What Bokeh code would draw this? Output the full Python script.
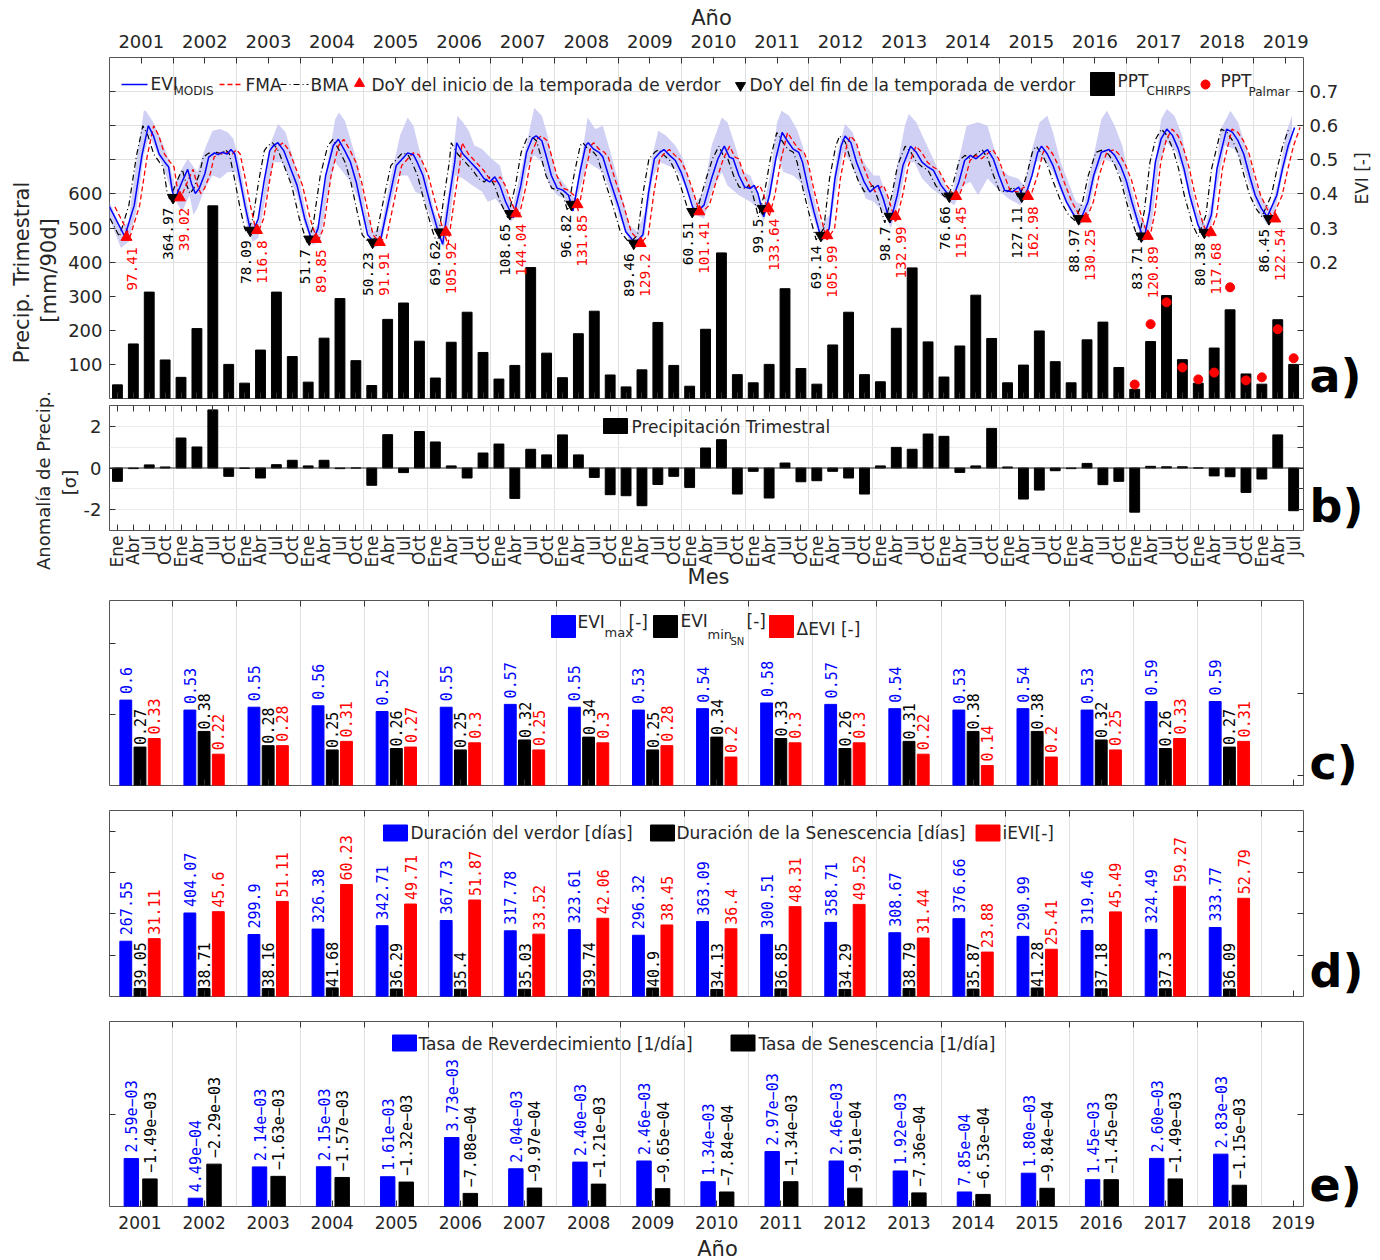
import math
from bokeh.plotting import figure
from bokeh.layouts import column
from bokeh.models import Range1d, LinearAxis, FixedTicker, Label, Span
from bokeh.core.properties import value
from bokeh.embed import file_html
from bokeh.resources import INLINE

# ------------------------------------------------------------------ data
years = list(range(2001, 2020))
season_years = list(range(2001, 2019))
quarter_names = ["Ene", "Abr", "Jul", "Oct"]

# quarterly rainfall CHIRPS, Ene 2001 ... Jul 2019 [mm/90d]
ppt_chirps = [
    40, 160, 312, 113, 62, 205, 565, 100,
    45, 142, 312, 123, 48, 177, 293, 111,
    38, 232, 280, 168, 60, 165, 253, 135,
    57, 97, 384, 133, 61, 190, 256, 69,
    34, 84, 223, 97, 36, 203, 427, 70,
    46, 100, 322, 88, 42, 157, 253, 70,
    49, 206, 383, 166, 63, 154, 303, 176,
    46, 98, 198, 108, 46, 172, 224, 91,
    27, 167, 302, 114, 45, 148, 260, 72,
    42, 231, 100,
]
# standardized quarterly rainfall anomaly [sigma]
ppt_anomaly = [
    -0.64, -0.03, 0.15, 0.05, 1.44, 1.01, 2.79, -0.40,
    -0.02, -0.48, 0.16, 0.37, 0.10, 0.37, -0.03, 0.00,
    -0.83, 1.60, -0.22, 1.75, 1.25, 0.10, -0.48, 0.72,
    1.15, -1.46, 0.90, 0.63, 1.59, 0.63, -0.45, -1.28,
    -1.33, -1.81, -0.79, -0.40, -0.93, 0.96, 1.36, -1.25,
    -0.16, -1.44, 0.24, -0.66, -0.61, -0.16, -0.48, -1.25,
    0.10, 0.99, 0.90, 1.63, 1.52, -0.21, 0.10, 1.90,
    0.05, -1.49, -1.06, -0.13, -0.03, 0.22, -0.80, -0.64,
    -2.12, 0.08, 0.06, 0.06, 0.00, -0.38, -0.42, -1.17,
    -0.53, 1.59, -2.05,
]
# station record (Palmar), from Ene 2017 [mm/90d]
palmar_first = (2017, "Ene")
ppt_palmar = [41, 218, 282, 91, 56, 76, 326, 53, 62, 203, 118]

# MODIS EVI series [decimal year, EVI]
evi_t = [
    2001.00, 2001.24, 2001.39, 2001.51, 2001.61, 2001.69, 2001.78, 2001.87, 2001.93, 2001.99,
    2002.03, 2002.14, 2002.23, 2002.29, 2002.35, 2002.41, 2002.50, 2002.56, 2002.65, 2002.71, 2002.77, 2002.85, 2002.91, 2002.97,
    2003.04, 2003.13, 2003.21, 2003.25, 2003.34, 2003.43, 2003.52, 2003.58, 2003.65, 2003.74, 2003.83, 2003.95,
    2004.07, 2004.19, 2004.28, 2004.40, 2004.52, 2004.60, 2004.70, 2004.79, 2004.88, 2004.97,
    2005.06, 2005.15, 2005.27, 2005.39, 2005.51, 2005.69, 2005.78, 2005.84, 2005.93,
    2006.05, 2006.17, 2006.24, 2006.35, 2006.43, 2006.46, 2006.56, 2006.68, 2006.80, 2006.89, 2006.98,
    2007.06, 2007.14, 2007.23, 2007.35, 2007.47, 2007.56, 2007.65, 2007.71, 2007.80, 2007.86, 2007.95,
    2008.04, 2008.13, 2008.22, 2008.29, 2008.40, 2008.49, 2008.53, 2008.61, 2008.70, 2008.76, 2008.88,
    2009.00, 2009.12, 2009.27, 2009.39, 2009.48, 2009.57, 2009.66, 2009.72, 2009.81, 2009.90, 2009.99,
    2010.08, 2010.17, 2010.23, 2010.35, 2010.47, 2010.57, 2010.67, 2010.75, 2010.81, 2010.90, 2010.99,
    2011.08, 2011.14, 2011.20, 2011.29, 2011.38, 2011.48, 2011.58, 2011.66, 2011.75, 2011.84, 2011.90, 2011.99,
    2012.08, 2012.20, 2012.32, 2012.41, 2012.51, 2012.57, 2012.66, 2012.75, 2012.87, 2012.96,
    2013.02, 2013.09, 2013.17, 2013.28, 2013.39, 2013.48, 2013.60, 2013.69, 2013.78, 2013.87, 2013.96,
    2014.08, 2014.20, 2014.26, 2014.36, 2014.45, 2014.54, 2014.63, 2014.75, 2014.81, 2014.90, 2014.99,
    2015.08, 2015.20, 2015.30, 2015.36, 2015.39, 2015.51, 2015.60, 2015.66, 2015.75, 2015.84, 2015.93,
    2016.05, 2016.17, 2016.27, 2016.39, 2016.48, 2016.60, 2016.72, 2016.81, 2016.90, 2016.99,
    2017.08, 2017.18, 2017.27, 2017.36, 2017.45, 2017.54, 2017.63, 2017.72, 2017.81, 2017.90, 2017.99,
    2018.12, 2018.21, 2018.33, 2018.42, 2018.57, 2018.66, 2018.75, 2018.84, 2018.93,
    2019.02, 2019.12, 2019.21, 2019.36, 2019.45, 2019.54, 2019.64,
]
evi_v = [
    0.362, 0.275, 0.367, 0.513, 0.600, 0.571, 0.517, 0.493, 0.479, 0.406,
    0.385, 0.435, 0.472, 0.430, 0.401, 0.416, 0.459, 0.508, 0.520, 0.515, 0.522, 0.517, 0.530, 0.517,
    0.454, 0.367, 0.299, 0.285, 0.328, 0.435, 0.527, 0.542, 0.550, 0.527, 0.483, 0.425,
    0.328, 0.258, 0.299, 0.454, 0.542, 0.560, 0.527, 0.493, 0.435, 0.357,
    0.280, 0.260, 0.270, 0.377, 0.483, 0.520, 0.515, 0.493, 0.454,
    0.367, 0.289, 0.252, 0.396, 0.493, 0.550, 0.517, 0.493, 0.469, 0.445, 0.435,
    0.450, 0.425, 0.377, 0.330, 0.425, 0.522, 0.563, 0.570, 0.556, 0.517, 0.454,
    0.417, 0.411, 0.396, 0.350, 0.464, 0.542, 0.550, 0.532, 0.522, 0.508, 0.435,
    0.367, 0.289, 0.255, 0.280, 0.406, 0.503, 0.522, 0.530, 0.513, 0.498, 0.464,
    0.416, 0.362, 0.345, 0.367, 0.445, 0.503, 0.540, 0.508, 0.503, 0.454, 0.420,
    0.416, 0.425, 0.401, 0.333, 0.396, 0.503, 0.580, 0.556, 0.532, 0.522, 0.493, 0.416,
    0.348, 0.265, 0.299, 0.445, 0.542, 0.570, 0.551, 0.493, 0.435, 0.406,
    0.416, 0.425, 0.386, 0.315, 0.396, 0.483, 0.540, 0.522, 0.493, 0.479, 0.469,
    0.425, 0.396, 0.385, 0.435, 0.498, 0.513, 0.503, 0.522, 0.530, 0.503, 0.454,
    0.410, 0.406, 0.420, 0.396, 0.385, 0.454, 0.522, 0.540, 0.517, 0.483, 0.435,
    0.377, 0.338, 0.322, 0.377, 0.454, 0.522, 0.530, 0.513, 0.483, 0.440,
    0.377, 0.314, 0.265, 0.348, 0.493, 0.561, 0.590, 0.571, 0.532, 0.474, 0.396,
    0.309, 0.275, 0.338, 0.474, 0.590, 0.581, 0.556, 0.517, 0.454,
    0.396, 0.357, 0.333, 0.396, 0.474, 0.542, 0.595,
]
# lag of the forward / backward moving averages with respect to EVI [years]
ma_lag = 0.085

# EVI spread envelope: upper and lower edges
band_hi_t = [
    2001.00, 2001.18, 2001.30, 2001.42, 2001.54, 2001.57, 2001.69, 2001.81, 2001.93, 2002.02, 2002.14, 2002.23,
    2002.38, 2002.50, 2002.62, 2002.74, 2002.86, 2002.95, 2003.04, 2003.13, 2003.22, 2003.31, 2003.40, 2003.52,
    2003.65, 2003.77, 2003.86, 2003.98, 2004.10, 2004.19, 2004.31, 2004.43, 2004.55, 2004.61, 2004.70, 2004.79,
    2004.91, 2005.03, 2005.15, 2005.27, 2005.42, 2005.57, 2005.69, 2005.78, 2005.87, 2005.99, 2006.11, 2006.23,
    2006.35, 2006.47, 2006.56, 2006.65, 2006.74, 2006.86, 2007.01, 2007.14, 2007.26, 2007.35, 2007.50, 2007.62,
    2007.68, 2007.80, 2007.89, 2008.01, 2008.13, 2008.25, 2008.31, 2008.43, 2008.52, 2008.64, 2008.76, 2008.88,
    2009.03, 2009.18, 2009.30, 2009.42, 2009.54, 2009.63, 2009.75, 2009.90, 2010.02, 2010.14, 2010.23, 2010.35,
    2010.47, 2010.63, 2010.72, 2010.84, 2010.96, 2011.08, 2011.20, 2011.29, 2011.41, 2011.50, 2011.57, 2011.69,
    2011.81, 2011.90, 2012.02, 2012.11, 2012.20, 2012.32, 2012.44, 2012.57, 2012.69, 2012.78, 2012.90, 2013.02,
    2013.11, 2013.20, 2013.29, 2013.38, 2013.51, 2013.57, 2013.69, 2013.81, 2013.93, 2014.05, 2014.17, 2014.26,
    2014.35, 2014.48, 2014.66, 2014.81, 2014.90, 2015.02, 2015.14, 2015.29, 2015.39, 2015.51, 2015.63, 2015.75,
    2015.84, 2015.96, 2016.08, 2016.20, 2016.33, 2016.48, 2016.60, 2016.69, 2016.81, 2016.93, 2017.05, 2017.17,
    2017.30, 2017.42, 2017.54, 2017.63, 2017.75, 2017.87, 2017.99, 2018.11, 2018.24, 2018.36, 2018.48, 2018.63,
    2018.75, 2018.90, 2019.02, 2019.15, 2019.27, 2019.39, 2019.51, 2019.60,
]
band_hi_v = [
    0.377, 0.299, 0.318, 0.493, 0.644, 0.644, 0.610, 0.561, 0.503, 0.425, 0.474, 0.503,
    0.464, 0.532, 0.585, 0.590, 0.581, 0.561, 0.493, 0.406, 0.318, 0.309, 0.377, 0.542,
    0.605, 0.581, 0.522, 0.445, 0.338, 0.289, 0.318, 0.493, 0.619, 0.639, 0.615, 0.561,
    0.483, 0.348, 0.289, 0.299, 0.445, 0.571, 0.624, 0.600, 0.532, 0.445, 0.348, 0.299,
    0.425, 0.629, 0.610, 0.585, 0.542, 0.532, 0.503, 0.483, 0.396, 0.367, 0.493, 0.600,
    0.653, 0.629, 0.571, 0.464, 0.435, 0.406, 0.386, 0.513, 0.624, 0.590, 0.600, 0.522,
    0.416, 0.309, 0.289, 0.348, 0.513, 0.585, 0.571, 0.542, 0.503, 0.425, 0.377, 0.406,
    0.542, 0.624, 0.610, 0.542, 0.464, 0.454, 0.396, 0.367, 0.474, 0.610, 0.644, 0.629,
    0.590, 0.542, 0.454, 0.367, 0.309, 0.338, 0.513, 0.605, 0.581, 0.522, 0.483, 0.454,
    0.454, 0.406, 0.367, 0.474, 0.600, 0.634, 0.610, 0.561, 0.513, 0.464, 0.416, 0.401,
    0.493, 0.600, 0.610, 0.600, 0.542, 0.474, 0.454, 0.445, 0.425, 0.532, 0.610, 0.629,
    0.581, 0.493, 0.435, 0.377, 0.367, 0.513, 0.619, 0.644, 0.600, 0.542, 0.435, 0.348,
    0.309, 0.445, 0.619, 0.649, 0.629, 0.571, 0.445, 0.348, 0.309, 0.396, 0.590, 0.644,
    0.610, 0.522, 0.435, 0.377, 0.357, 0.445, 0.581, 0.629,
]
band_lo_t = [
    2001.00, 2001.18, 2001.30, 2001.42, 2001.54, 2001.63, 2001.72, 2001.84, 2001.96, 2002.05, 2002.14, 2002.26,
    2002.32, 2002.38, 2002.50, 2002.62, 2002.74, 2002.86, 2002.98, 2003.07, 2003.16, 2003.25, 2003.34, 2003.46,
    2003.58, 2003.71, 2003.83, 2003.95, 2004.07, 2004.19, 2004.31, 2004.43, 2004.55, 2004.67, 2004.79, 2004.91,
    2005.03, 2005.15, 2005.27, 2005.39, 2005.54, 2005.69, 2005.81, 2005.93, 2006.05, 2006.17, 2006.26, 2006.35,
    2006.44, 2006.56, 2006.71, 2006.86, 2006.95, 2007.07, 2007.20, 2007.32, 2007.44, 2007.56, 2007.68, 2007.80,
    2007.92, 2008.04, 2008.16, 2008.28, 2008.40, 2008.52, 2008.64, 2008.76, 2008.88, 2009.03, 2009.18, 2009.30,
    2009.42, 2009.54, 2009.66, 2009.78, 2009.90, 2010.02, 2010.14, 2010.23, 2010.35, 2010.47, 2010.63, 2010.72,
    2010.90, 2011.08, 2011.20, 2011.29, 2011.41, 2011.50, 2011.60, 2011.75, 2011.87, 2011.99, 2012.11, 2012.20,
    2012.32, 2012.41, 2012.54, 2012.66, 2012.78, 2012.90, 2013.02, 2013.17, 2013.29, 2013.42, 2013.54, 2013.66,
    2013.78, 2013.93, 2014.08, 2014.20, 2014.29, 2014.42, 2014.54, 2014.66, 2014.81, 2014.96, 2015.14, 2015.33,
    2015.45, 2015.57, 2015.69, 2015.84, 2015.96, 2016.11, 2016.27, 2016.39, 2016.51, 2016.63, 2016.78, 2016.90,
    2017.02, 2017.17, 2017.27, 2017.39, 2017.51, 2017.63, 2017.78, 2017.90, 2018.02, 2018.18, 2018.30, 2018.42,
    2018.54, 2018.69, 2018.81, 2018.93, 2019.08, 2019.21, 2019.33, 2019.45, 2019.60,
]
band_lo_v = [
    0.328, 0.241, 0.260, 0.348, 0.513, 0.571, 0.532, 0.483, 0.416, 0.377, 0.348, 0.396,
    0.338, 0.357, 0.416, 0.454, 0.445, 0.464, 0.464, 0.406, 0.309, 0.260, 0.270, 0.396,
    0.493, 0.493, 0.445, 0.396, 0.309, 0.250, 0.260, 0.396, 0.493, 0.464, 0.435, 0.386,
    0.299, 0.241, 0.250, 0.348, 0.454, 0.454, 0.406, 0.396, 0.328, 0.270, 0.241, 0.318,
    0.454, 0.445, 0.425, 0.406, 0.377, 0.386, 0.357, 0.318, 0.348, 0.474, 0.513, 0.493,
    0.425, 0.396, 0.386, 0.348, 0.416, 0.493, 0.479, 0.464, 0.406, 0.328, 0.260, 0.241,
    0.280, 0.445, 0.493, 0.483, 0.474, 0.435, 0.377, 0.338, 0.328, 0.406, 0.464, 0.425,
    0.396, 0.377, 0.357, 0.318, 0.406, 0.513, 0.464, 0.454, 0.435, 0.377, 0.309, 0.260,
    0.280, 0.396, 0.522, 0.493, 0.435, 0.386, 0.377, 0.348, 0.299, 0.377, 0.493, 0.493,
    0.445, 0.416, 0.396, 0.377, 0.367, 0.425, 0.435, 0.396, 0.445, 0.416, 0.386, 0.367,
    0.406, 0.493, 0.503, 0.464, 0.406, 0.348, 0.309, 0.338, 0.454, 0.503, 0.493, 0.454,
    0.377, 0.299, 0.260, 0.309, 0.493, 0.551, 0.522, 0.454, 0.367, 0.280, 0.270, 0.416,
    0.542, 0.532, 0.493, 0.425, 0.348, 0.309, 0.348, 0.454, 0.561,
]

# start (SOS) and end (EOS) of the green season: day of year and EVI at the mark
sos_year = years
sos_doy = [97.41, 39.02, 116.8, 89.85, 91.91, 105.92, 144.04, 131.85, 129.2, 101.41,
           133.64, 105.99, 132.99, 115.45, 162.98, 130.25, 120.89, 117.68, 122.54]
sos_evi = [0.273, 0.389, 0.293, 0.267, 0.258, 0.288, 0.342, 0.369, 0.255, 0.348,
           0.357, 0.278, 0.334, 0.393, 0.393, 0.327, 0.276, 0.287, 0.327]
eos_year = [2001] + list(range(2003, 2020))
eos_doy = [364.97, 78.09, 51.7, 50.23, 69.62, 108.65, 96.82, 89.46, 60.51,
           99.5, 69.14, 98.7, 76.66, 127.11, 88.97, 83.71, 80.38, 86.45]
eos_evi = [0.389, 0.293, 0.267, 0.258, 0.288, 0.342, 0.369, 0.255, 0.348,
           0.357, 0.278, 0.334, 0.393, 0.393, 0.327, 0.276, 0.287, 0.327]

# seasonal metrics per season 2001 ... 2018
evi_max = [0.6, 0.53, 0.55, 0.56, 0.52, 0.55, 0.57, 0.55, 0.53, 0.54, 0.58, 0.57, 0.54, 0.53, 0.54, 0.53, 0.59, 0.59]
evi_min_sn = [0.27, 0.38, 0.28, 0.25, 0.26, 0.25, 0.32, 0.34, 0.25, 0.34, 0.33, 0.26, 0.31, 0.38, 0.38, 0.32, 0.26, 0.27]
delta_evi = [0.33, 0.22, 0.28, 0.31, 0.27, 0.3, 0.25, 0.3, 0.28, 0.2, 0.3, 0.3, 0.22, 0.14, 0.2, 0.25, 0.33, 0.31]

dur_green = [267.55, 404.07, 299.9, 326.38, 342.71, 367.73, 317.78, 323.61, 296.32, 363.09,
             300.51, 358.71, 308.67, 376.66, 290.99, 319.46, 324.49, 333.77]
dur_senesc = [39.05, 38.71, 38.16, 41.68, 36.29, 35.4, 35.03, 39.74, 40.9, 34.13,
              36.85, 34.29, 38.79, 35.87, 41.28, 37.18, 37.3, 36.09]
ievi = [31.11, 45.6, 51.11, 60.23, 49.71, 51.87, 33.52, 42.06, 38.45, 36.4,
        48.31, 49.52, 31.44, 23.88, 25.41, 45.49, 59.27, 52.79]

rate_green = [2.59e-03, 4.49e-04, 2.14e-03, 2.15e-03, 1.61e-03, 3.73e-03, 2.04e-03, 2.40e-03, 2.46e-03,
              1.34e-03, 2.97e-03, 2.46e-03, 1.92e-03, 7.85e-04, 1.80e-03, 1.45e-03, 2.60e-03, 2.83e-03]
rate_senesc = [-1.49e-03, -2.29e-03, -1.63e-03, -1.57e-03, -1.32e-03, -7.08e-04, -9.97e-04, -1.21e-03, -9.65e-04,
               -7.84e-04, -1.34e-03, -9.91e-04, -7.36e-04, -6.53e-04, -9.84e-04, -1.45e-03, -1.49e-03, -1.15e-03]

# ------------------------------------------------------------------ derived positions
n_q = len(ppt_chirps)
q_year = [y for y in years for _ in quarter_names][:n_q]
q_name = [m for _ in years for m in quarter_names][:n_q]
q_t = [y + (quarter_names.index(m) * 3 + 1.5) / 12 for y, m in zip(q_year, q_name)]
i0 = list(zip(q_year, q_name)).index(palmar_first)
palmar_t = q_t[i0:i0 + len(ppt_palmar)]

sos_t = [y + d / 365.0 for y, d in zip(sos_year, sos_doy)]
eos_t = [y + d / 365.0 for y, d in zip(eos_year, eos_doy)]

mid_years = [y + 0.5 for y in years]
year_starts = [float(y) for y in years[1:]]
half_years = [y + 0.5 for y in season_years]


def num(v):
    return f"{v:.2f}".rstrip("0").rstrip(".")


def sci(v):
    return f"{v:.2e}".replace("-", "\u2212")


# ------------------------------------------------------------------ styling
SANS = "DejaVu Sans"
MONO = "DejaVu Sans Mono"
INK = "#262626"
TICK = "#333333"
FRAME_C = "#555555"
GRID = "#e0e0e0"
BLUE = "#0000ff"
RED = "#ff0000"
BAND = "#c8c8f2"

W, H = 1380, 1260
FRAME_L, FRAME_R = 109, 1303
FRAME_W = FRAME_R - FRAME_L


class Frame:
    """Page geometry of one plot frame and its data limits."""

    def __init__(self, top, bottom, x0, x1, y0, y1):
        self.top, self.bottom = top, bottom
        self.x0, self.x1, self.y0, self.y1 = x0, x1, y0, y1

    def x(self, px):
        return self.x0 + (px - FRAME_L) / FRAME_W * (self.x1 - self.x0)

    def y(self, py):
        return self.y1 - (py - self.top) / (self.bottom - self.top) * (self.y1 - self.y0)


def new_panel(fr, border_top, border_bottom, shift_up=0):
    p = figure(frame_width=FRAME_W, frame_height=fr.bottom - fr.top,
               x_range=Range1d(fr.x0, fr.x1), y_range=Range1d(fr.y0, fr.y1),
               min_border_left=FRAME_L, min_border_right=W - FRAME_R,
               min_border_top=border_top, min_border_bottom=border_bottom,
               output_backend="svg", toolbar_location=None, title=None)
    p.margin = (-shift_up, 0, 0, 0)
    p.border_fill_color = None
    p.background_fill_color = "white"
    p.outline_line_color = FRAME_C
    p.outline_line_width = 1
    p.xgrid.grid_line_color = None
    p.ygrid.grid_line_color = None
    return p


def style_axis(ax, ticks=(), minor=(), size="18px", standoff=6, overrides=None):
    # labelled positions are major ticks; bare tick marks are minor ticks
    ax.ticker = FixedTicker(ticks=list(ticks), minor_ticks=list(minor))
    ax.axis_line_color = None
    ax.major_tick_in, ax.major_tick_out = 6, 0
    ax.minor_tick_in, ax.minor_tick_out = 6, 0
    ax.major_tick_line_color = TICK
    ax.minor_tick_line_color = TICK
    ax.major_label_text_font = SANS
    ax.major_label_text_font_size = size
    ax.major_label_text_color = INK
    ax.major_label_standoff = standoff
    if overrides:
        ax.major_label_overrides = overrides


def put_text(p, fr, px, py, text, size="17px", color=INK, align="left",
             baseline="middle", angle=0.0, font=SANS, style="normal"):
    p.add_layout(Label(x=fr.x(px), y=fr.y(py), text=text, text_font=font,
                       text_font_size=size, text_color=color, text_align=align,
                       text_baseline=baseline, angle=angle, text_font_style=style))


def put_box(p, fr, px, py, w, h, color):
    p.rect(x=[fr.x(px)], y=[fr.y(py)], width=w, height=h,
           width_units="screen", height_units="screen",
           fill_color=color, line_color=color)


def bar_labels(p, xs, tops, texts, color, gap, size="15px", **kw):
    p.text(x=xs, y=tops, text=texts, angle=math.pi / 2, text_align="left",
           text_baseline="middle", y_offset=-gap, text_font=value(MONO),
           text_font_size=size, text_color=color, **kw)


# ================================================================== panel a
fa = Frame(57, 398, 2001.0, 2019.78, 0, 1000)
pa = new_panel(fa, 57, 12)
pa.extra_y_ranges = {"evi": Range1d(-0.2, 0.8)}
pa.xgrid.grid_line_color = GRID
pa.xgrid.ticker = FixedTicker(ticks=year_starts)
pa.ygrid.grid_line_color = GRID
pa.ygrid.ticker = FixedTicker(ticks=[400, 500, 600, 700, 800, 900])

style_axis(pa.left[0], [100, 200, 300, 400, 500, 600], minor=[700, 800, 900], standoff=7)
style_axis(pa.below[0], minor=q_t)
top_a = LinearAxis()
style_axis(top_a, mid_years, minor=year_starts, standoff=10,
           overrides={m: str(y) for m, y in zip(mid_years, years)})
pa.add_layout(top_a, "above")
right_a = LinearAxis(y_range_name="evi")
style_axis(right_a, [0.2, 0.3, 0.4, 0.5, 0.6, 0.7], minor=[-0.1, 0.0, 0.1], standoff=6)
pa.add_layout(right_a, "right")

pa.vbar(x=q_t, top=ppt_chirps, width=0.155, color="black")
pa.patch(band_hi_t + band_lo_t[::-1], band_hi_v + band_lo_v[::-1], y_range_name="evi",
         fill_color=BAND, fill_alpha=0.85, line_color=None)
pa.line([t - ma_lag for t in evi_t], evi_v, y_range_name="evi",
        line_color="black", line_width=1.2, line_dash="6 3 1 3")
pa.line([t + ma_lag for t in evi_t], evi_v, y_range_name="evi",
        line_color=RED, line_width=1.3, line_dash="5 3")
pa.line(evi_t, evi_v, y_range_name="evi", line_color=BLUE, line_width=1.5)
pa.scatter(eos_t, eos_evi, marker="inverted_triangle", size=11, color="black", y_range_name="evi")
pa.scatter(sos_t, sos_evi, marker="triangle", size=11, color=RED, y_range_name="evi")
pa.scatter(palmar_t, ppt_palmar, marker="circle", size=9, color=RED)

pair_x = [(e + s) / 2 for e, s in zip(eos_t, sos_t[1:])]
pair_y = [min(a, b) for a, b in zip(eos_evi, sos_evi[1:])]
doy_kw = dict(angle=math.pi / 2, text_align="right", text_baseline="middle", y_offset=10,
              text_font=value(MONO), text_font_size="14.5px", y_range_name="evi")
pa.text(pair_x, pair_y, text=[num(d) for d in eos_doy], x_offset=-8, text_color="black", **doy_kw)
pa.text(pair_x, pair_y, text=[num(d) for d in sos_doy[1:]], x_offset=8, text_color=RED, **doy_kw)
pa.text([sos_t[0]], [sos_evi[0]], text=[num(sos_doy[0])], x_offset=6, text_color=RED, **doy_kw)

# legend of panel a
pa.line([fa.x(121), fa.x(147)], [fa.y(84)] * 2, line_color=BLUE, line_width=1.5)
put_text(pa, fa, 150, 83, "EVI")
put_text(pa, fa, 173, 90.5, "MODIS", size="12px")
pa.line([fa.x(219), fa.x(243)], [fa.y(84)] * 2, line_color=RED, line_width=1.3, line_dash="5 3")
put_text(pa, fa, 245, 84, "FMA")
pa.line([fa.x(280), fa.x(308)], [fa.y(84)] * 2, line_color="black", line_width=1.2, line_dash="6 3 1 3")
put_text(pa, fa, 310, 84, "BMA")
pa.scatter([fa.x(359)], [fa.y(83)], marker="triangle", size=10, color=RED)
put_text(pa, fa, 371, 84, "DoY del inicio de la temporada de verdor")
pa.scatter([fa.x(740)], [fa.y(85)], marker="inverted_triangle", size=10, color="black")
put_text(pa, fa, 749, 84, "DoY del fin de la temporada de verdor")
put_box(pa, fa, 1102, 83.5, 24, 23, "black")
put_text(pa, fa, 1117, 80, "PPT")
put_text(pa, fa, 1146, 90, "CHIRPS", size="12px")
pa.scatter([fa.x(1205)], [fa.y(84)], marker="circle", size=9, color=RED)
put_text(pa, fa, 1220, 80, "PPT")
put_text(pa, fa, 1248, 91, "Palmar", size="12px")

# ================================================================== panel b
fb = Frame(405, 530, 2001.0, 2019.78, -3, 3)
pb = new_panel(fb, 25, 70, shift_up=30)
pb.xgrid.grid_line_color = GRID
pb.xgrid.ticker = FixedTicker(ticks=year_starts)
pb.ygrid.grid_line_color = "#ececec"
pb.ygrid.ticker = FixedTicker(ticks=[-2, -1, 1, 2])

style_axis(pb.left[0], [-2, 0, 2], standoff=8, overrides={-2: "-2", 0: "0", 2: "2"})
style_axis(pb.below[0], q_t, size="17px", standoff=5,
           overrides={t: m for t, m in zip(q_t, q_name)})
pb.below[0].major_label_orientation = math.pi / 2
top_b = LinearAxis()
style_axis(top_b, minor=q_t)
pb.add_layout(top_b, "above")
right_b = LinearAxis()
style_axis(right_b, minor=[-2, -1, 0, 1, 2])
pb.add_layout(right_b, "right")

pb.add_layout(Span(location=0, dimension="width", line_color=INK, line_width=1))
pb.vbar(x=q_t, top=ppt_anomaly, bottom=0, width=0.155, color="black")

put_box(pb, fb, 615, 425.5, 24, 15, "black")
put_text(pb, fb, 631, 426, "Precipitación Trimestral")

# ================================================================== panels c-e (shared x)
XS0, XS1 = 2000.524, 2019.156
off3 = 0.222     # offset of the side bars in a three-bar group
w3 = 0.185
x_left3 = [y - off3 for y in season_years]
x_mid3 = list(season_years)
x_right3 = [y + off3 for y in season_years]


def season_axes(p, left_ticks, right_ticks, bottom_labels=False):
    p.xgrid.grid_line_color = GRID
    p.xgrid.ticker = FixedTicker(ticks=half_years)
    style_axis(p.left[0], minor=left_ticks)
    if bottom_labels:
        style_axis(p.below[0], years, size="17px", standoff=9)
    else:
        style_axis(p.below[0], minor=years)
    top = LinearAxis()
    style_axis(top, minor=half_years)
    p.add_layout(top, "above")
    right = LinearAxis()
    style_axis(right, minor=right_ticks)
    p.add_layout(right, "right")


# ---------------------------------------------------------------- panel c
fc = Frame(600, 785, XS0, XS1, 0, 1.3)
pc = new_panel(fc, 10, 10, shift_up=10)
season_axes(pc, [0.5, 1.0], [0.07, 0.65])
pc.vbar(x=x_left3, top=evi_max, width=w3, color=BLUE)
pc.vbar(x=x_mid3, top=evi_min_sn, width=w3, color="black")
pc.vbar(x=x_right3, top=delta_evi, width=w3, color=RED)
bar_labels(pc, x_left3, evi_max, [num(v) for v in evi_max], BLUE, 6)
bar_labels(pc, x_mid3, evi_min_sn, [num(v) for v in evi_min_sn], "black", 2)
bar_labels(pc, x_right3, delta_evi, [num(v) for v in delta_evi], RED, 4)

put_box(pc, fc, 563, 626, 24, 22, BLUE)
put_text(pc, fc, 577, 621.5, "EVI")
put_text(pc, fc, 604, 632, "max", size="13px")
put_text(pc, fc, 628, 621, "[-]")
put_box(pc, fc, 665, 626, 24, 22, "black")
put_text(pc, fc, 680, 620.5, "EVI")
put_text(pc, fc, 707, 634, "min", size="13px")
put_text(pc, fc, 730, 641, "SN", size="10px")
put_text(pc, fc, 746, 620, "[-]")
put_box(pc, fc, 781, 626, 24, 22, RED)
put_text(pc, fc, 796, 628, "ΔEVI [-]")

# ---------------------------------------------------------------- panel d
fd = Frame(810, 996, XS0, XS1, 0, 900)
pd_ = new_panel(fd, 15, 10)
pd_.extra_y_ranges = {"ievi": Range1d(0, 100)}
season_axes(pd_, [200, 400, 600, 800], [200, 400, 600, 800])
pd_.vbar(x=x_left3, top=dur_green, width=w3, color=BLUE)
pd_.vbar(x=x_mid3, top=dur_senesc, width=w3, color="black")
pd_.vbar(x=x_right3, top=ievi, width=w3, color=RED, y_range_name="ievi")
bar_labels(pd_, x_left3, dur_green, [num(v) for v in dur_green], BLUE, 6)
bar_labels(pd_, x_mid3, dur_senesc, [num(v) for v in dur_senesc], "black", 1)
bar_labels(pd_, x_right3, ievi, [num(v) for v in ievi], RED, 4, y_range_name="ievi")

put_box(pd_, fd, 395, 832.5, 24, 16, BLUE)
put_text(pd_, fd, 410, 832, "Duración del verdor [días]")
put_box(pd_, fd, 662, 832.5, 24, 16, "black")
put_text(pd_, fd, 676, 832, "Duración de la Senescencia [días]")
put_box(pd_, fd, 987.5, 832.5, 24, 16, RED)
put_text(pd_, fd, 1002, 832, "iEVI[-]")

# ---------------------------------------------------------------- panel e
fe = Frame(1021, 1206, XS0, XS1, 0, 0.01)
pe = new_panel(fe, 15, 54)
season_axes(pe, [0.005], [0.005], bottom_labels=True)
x_left2 = [y - 0.135 for y in season_years]
x_right2 = [y + 0.155 for y in season_years]
senesc_height = [abs(v) for v in rate_senesc]
pe.vbar(x=x_left2, top=rate_green, width=0.225, color=BLUE)
pe.vbar(x=x_right2, top=senesc_height, width=0.225, color="black")
bar_labels(pe, x_left2, rate_green, [sci(v) for v in rate_green], BLUE, 6)
bar_labels(pe, x_right2, senesc_height, [sci(v) for v in rate_senesc], "black", 6)

put_box(pe, fe, 404, 1042.5, 24, 16, BLUE)
put_text(pe, fe, 418, 1043, "Tasa de Reverdecimiento [1/día]")
put_box(pe, fe, 742.5, 1042.5, 24, 16, "black")
put_text(pe, fe, 758, 1043, "Tasa de Senescencia [1/día]")

# ================================================================== page-level titles
# a transparent sheet laid over the whole page carries the axis titles and panel letters
sheet = figure(width=W, height=H, x_range=Range1d(0, W), y_range=Range1d(H, 0),
               min_border=0, x_axis_location=None, y_axis_location=None,
               output_backend="svg", toolbar_location=None, title=None)
sheet.frame_align = False          # keep its frame on the full page, not on the panels' frames
sheet.margin = (-H, 0, 0, 0)
sheet.border_fill_color = None
sheet.background_fill_color = None
sheet.outline_line_color = None
sheet.xgrid.grid_line_color = None
sheet.ygrid.grid_line_color = None


def sheet_text(px, py, text, size, align="center", angle=0.0, baseline="middle", style="normal"):
    sheet.add_layout(Label(x=px, y=py, text=text, text_font=SANS, text_font_size=size,
                           text_color="black" if style == "bold" else INK,
                           text_align=align, text_baseline=baseline, angle=angle,
                           text_font_style=style))


vert = math.pi / 2
sheet_text(711, 17, "Año", "21px")
sheet_text(21, 272, "Precip. Trimestral", "21px", angle=vert)
sheet_text(48, 270, "[mm/90d]", "21px", angle=vert)
sheet_text(1361, 178, "EVI [-]", "17px", angle=vert)
sheet_text(43, 480, "Anomalía de Precip.", "18px", angle=vert)
sheet_text(69, 482, "[σ]", "18px", angle=vert)
sheet_text(708, 576, "Mes", "21px")
sheet_text(717, 1248, "Año", "21px")
for letter, base in [("a)", 375), ("b)", 505), ("c)", 762), ("d)", 970), ("e)", 1184)]:
    sheet_text(1309, base, letter, "46px", align="left", baseline="alphabetic", style="bold")

layout = column(pa, pb, pc, pd_, pe, sheet, spacing=0)
with open("out.html", "w", encoding="utf-8") as f:
    f.write(file_html(layout, INLINE, title="Fenología EVI y precipitación"))
